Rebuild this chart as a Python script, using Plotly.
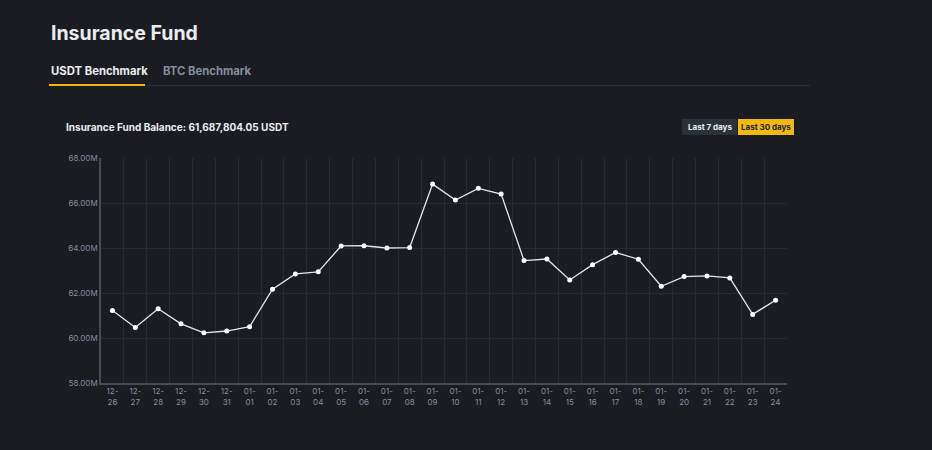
import plotly.graph_objects as go

# dates shown on the x axis (month-day, split over two lines)
dates = ["12-26", "12-27", "12-28", "12-29", "12-30", "12-31",
         "01-01", "01-02", "01-03", "01-04", "01-05", "01-06", "01-07", "01-08",
         "01-09", "01-10", "01-11", "01-12", "01-13", "01-14", "01-15", "01-16",
         "01-17", "01-18", "01-19", "01-20", "01-21", "01-22", "01-23", "01-24"]

# insurance fund balance, millions of USDT
balance = [61.22, 60.47, 61.30, 60.63, 60.23, 60.31, 60.50, 62.17, 62.85, 62.94,
           64.09, 64.10, 64.00, 64.02, 66.84, 66.13, 66.65, 66.40, 63.44, 63.51,
           62.58, 63.26, 63.80, 63.50, 62.30, 62.73, 62.76, 62.67, 61.05, 61.68]

y_ticks = [58, 60, 62, 64, 66, 68]
y_tick_text = ["58.00M", "60.00M", "62.00M", "64.00M", "66.00M", "68.00M"]

BG = "#1b1c21"
GRID = "#272a31"
AXIS = "#474d57"
MUTED = "#848e9c"
YELLOW = "#f0b90b"
FONT = "Inter"

W, H = 932, 450
L, R, T, B = 101, 787, 158, 383


def px(x):
    return (x - L) / (R - L)


def py(y):
    return (B - y) / (B - T)


labels = [d.replace("-", "-<br>") for d in dates]

fig = go.Figure(
    data=[go.Scatter(
        x=labels, y=balance, mode="lines+markers",
        line=dict(color="#e6e6e6", width=1.3),
        marker=dict(color="#ffffff", size=5),
        hoverinfo="x+y",
    )],
)

fig.update_layout(
    width=W, height=H,
    paper_bgcolor=BG, plot_bgcolor=BG,
    margin=dict(l=L, r=W - R, t=T, b=H - B),
    showlegend=False,
    font=dict(family=FONT, color=MUTED, size=8),
    xaxis=dict(
        type="category", range=[-0.5, len(dates) - 0.5],
        tickson="boundaries", showgrid=True, gridcolor=GRID, gridwidth=1,
        showline=True, linecolor=AXIS, linewidth=1.5,
        ticks="", tickfont=dict(size=8, color=MUTED), fixedrange=True,
    ),
    yaxis=dict(
        range=[58, 68], tickvals=y_ticks, ticktext=y_tick_text,
        showgrid=True, gridcolor=GRID, gridwidth=1, zeroline=False,
        showline=True, linecolor=AXIS, linewidth=1.5,
        ticks="", tickfont=dict(size=8, color=MUTED), fixedrange=True,
    ),
)

texts = [
    (49, 33, "<b>Insurance Fund</b>", 19.5, "#eaecef"),
    (49, 71, "<b>USDT Benchmark</b>", 11.3, "#eaecef"),
    (161, 71, "<b>BTC Benchmark</b>", 11.3, MUTED),
    (64, 127, "<b>Insurance Fund Balance: 61,687,804.05 USDT</b>", 10, "#eaecef"),
]
for x, y, t, s, c in texts:
    fig.add_annotation(x=px(x), y=py(y), xref="paper", yref="paper", text=t,
                       showarrow=False, xanchor="left", yanchor="middle",
                       font=dict(size=s, color=c, family=FONT))

# tab underline and divider
fig.add_shape(type="line", xref="paper", yref="paper",
              x0=px(145), x1=px(810), y0=py(85.5), y1=py(85.5),
              line=dict(color="#2b2f36", width=1))
fig.add_shape(type="line", xref="paper", yref="paper",
              x0=px(49), x1=px(145), y0=py(85), y1=py(85),
              line=dict(color=YELLOW, width=2))

# range buttons
buttons = [(682, 737, "#2b3139", "<b>Last 7 days</b>", "#eaecef"),
           (738, 794, YELLOW, "<b>Last 30 days</b>", "#1e2329")]
for x0, x1, fill, t, c in buttons:
    fig.add_shape(type="rect", xref="paper", yref="paper",
                  x0=px(x0), x1=px(x1), y0=py(135), y1=py(119),
                  fillcolor=fill, line=dict(width=0), layer="below")
    fig.add_annotation(x=px((x0 + x1) / 2), y=py(127), xref="paper", yref="paper",
                       text=t, showarrow=False, xanchor="center", yanchor="middle",
                       font=dict(size=8, color=c, family=FONT))

fig.write_html("out.html", config={"displayModeBar": False},
               post_script="document.body.style.margin='0';")
